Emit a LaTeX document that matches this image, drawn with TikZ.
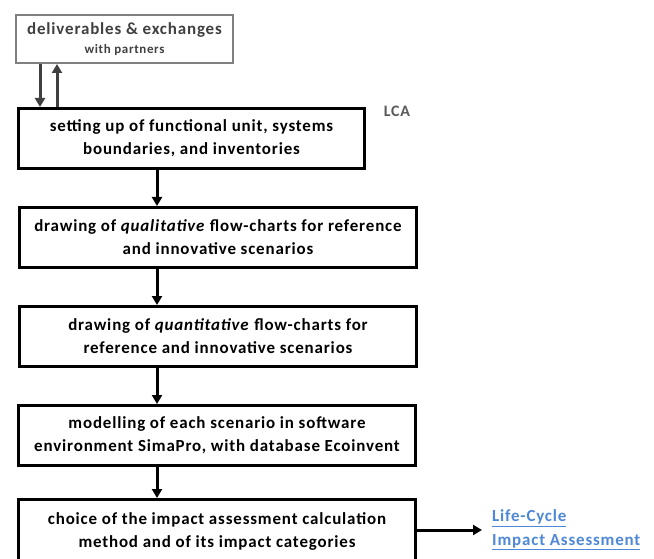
\documentclass[tikz,border=0pt]{standalone}
\usepackage{fontspec}
\setmainfont{Carlito}[LetterSpace=5]
\usetikzlibrary{arrows.meta}
\definecolor{partnergray}{HTML}{808080}
\definecolor{textgray}{HTML}{404040}
\definecolor{lcagray}{HTML}{595959}
\definecolor{linkblue}{HTML}{4F88D6}

\begin{document}
\begin{tikzpicture}[x=1bp, y=-1bp, >={Triangle[width=10bp,length=9bp]},
    main/.style = {draw, line width=3bp, anchor=north west, align=center, inner sep=0pt,
        minimum height=60bp, font=\bfseries\fontsize{17}{23}\selectfont},
    partner/.style = {draw=partnergray, line width=2bp, anchor=north west, align=center,
        inner sep=0pt, minimum width=217bp, minimum height=48bp, text=textgray,
        font=\bfseries\fontsize{17}{19}\selectfont},
    link/.style = {anchor=west, align=left, inner sep=0pt, text=linkblue,
        font=\bfseries\fontsize{17}{24}\selectfont}]
    \clip (0,0) rectangle (654,559);
    \fill[white] (0,0) rectangle (654,559);
    \coordinate (axis) at (157,0);
    \node[partner] (1) at (15,14) {deliverables \& exchanges\\
        {\fontsize{13}{19}\selectfont with partners}};
    \node[main, minimum width=346bp] (2) at (17,107) {setting up of functional unit, systems\\
        boundaries, and inventories};
    \node[main, minimum width=397bp] (3) at (18,206) {drawing of \textit{qualitative} flow-charts for reference\\
        and innovative scenarios};
    \node[main, minimum width=397bp] (4) at (18,305) {drawing of \textit{quantitative} flow-charts for\\
        reference and innovative scenarios};
    \node[main, minimum width=397bp] (5) at (17,404) {modelling of each scenario in software\\
        environment SimaPro, with database Ecoinvent};
    \node[main, minimum width=397bp, minimum height=64bp] (6) at (17,498) {choice of the impact assessment calculation\\
        method and of its impact categories};
    \node[text=lcagray, font=\bfseries\fontsize{16}{16}\selectfont] (lca) at (397,111) {LCA};
    \node[link] (lcia) at (492,530) {\underline{Life-Cycle}\\ \underline{Impact Assessment}};
    \draw[->, line width=3bp, draw=textgray, fill=textgray] (1.south -| 40,0) -- (2.north -| 40,0);
    \draw[->, line width=3bp, draw=textgray, fill=textgray] (2.north -| 57,0) -- (1.south -| 57,0);
    \draw[->, line width=3bp] (2.south -| axis) -- (3.north -| axis);
    \draw[->, line width=3bp] (3.south -| axis) -- (4.north -| axis);
    \draw[->, line width=3bp] (4.south -| axis) -- (5.north -| axis);
    \draw[->, line width=3bp] (5.south -| axis) -- (6.north -| axis);
    \draw[->, line width=3bp, shorten >=10bp] (6.east |- lcia.west) -- (lcia.west);
\end{tikzpicture}
\end{document}
